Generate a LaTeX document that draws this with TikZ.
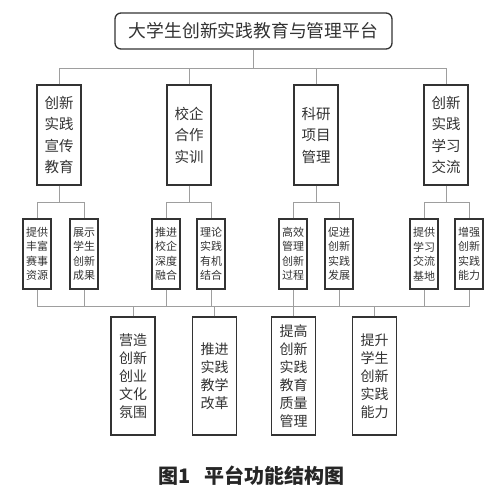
\documentclass[tikz,border=0pt]{standalone}
\usepackage{fontspec}
\newfontfamily\cjk{Noto Sans CJK SC}
\tikzset{
  conn/.style={draw=black!38, line width=0.8pt},
  box/.style={draw=black!80, line width=1.3pt, fill=white, align=center, inner sep=0pt, text=black!80},
  titlebox/.style={box, rounded corners=6pt, minimum width=277pt, minimum height=36pt, font=\cjk\fontsize{17.8}{20}\selectfont},
  lvtwo/.style={box, minimum width=44pt, minimum height=100pt, font=\cjk\fontsize{14.5}{21.5}\selectfont},
  lvthree/.style={box, minimum width=28pt, minimum height=70pt, font=\cjk\fontsize{11}{14.5}\selectfont},
  lvfour/.style={box, minimum width=44pt, minimum height=118pt, font=\cjk\fontsize{14}{18}\selectfont},
}
\begin{document}
\begin{tikzpicture}[x=1pt,y=-1pt]
\useasboundingbox (0,0) rectangle (500,495);
% connectors first (drawn under boxes)
\coordinate (j0) at (253.5,68);
\coordinate (ja) at (59,202);
\coordinate (jb) at (189,202);
\coordinate (jc) at (316,202);
\coordinate (jd) at (446,202);
\coordinate (jl) at (37,306);
\coordinate (jr) at (469,306);
% top
\node[titlebox] (top) at (253.5,31) {大学生创新实践教育与管理平台};
% level 2
\node[lvtwo] (a) at (59,135) {创新\\实践\\宣传\\教育};
\node[lvtwo] (b) at (189,135) {校企\\合作\\实训};
\node[lvtwo] (c) at (316,135) {科研\\项目\\管理};
\node[lvtwo] (d) at (446,135) {创新\\实践\\学习\\交流};
% level 3
\node[lvthree] (a1) at (37,254) {提供\\丰富\\赛事\\资源};
\node[lvthree] (a2) at (84,254) {展示\\学生\\创新\\成果};
\node[lvthree] (b1) at (166,254) {推进\\校企\\深度\\融合};
\node[lvthree] (b2) at (211,254) {理论\\实践\\有机\\结合};
\node[lvthree] (c1) at (293,254) {高效\\管理\\创新\\过程};
\node[lvthree] (c2) at (339,254) {促进\\创新\\实践\\发展};
\node[lvthree] (d1) at (424,254) {提供\\学习\\交流\\基地};
\node[lvthree] (d2) at (469,254) {增强\\创新\\实践\\能力};
% level 4
\node[lvfour] (e1) at (133,376) {营造\\创新\\创业\\文化\\氛围};
\node[lvfour] (e2) at (214.5,376) {推进\\实践\\教学\\改革};
\node[lvfour] (e3) at (293.5,376) {提高\\创新\\实践\\教育\\质量\\管理};
\node[lvfour] (e4) at (374.5,376) {提升\\学生\\创新\\实践\\能力};
% caption
\node[font=\cjk\bfseries\fontsize{20}{22}\selectfont, text=black!85, inner sep=0pt] (cap) at (251.5,476) {图1\hspace{0.7em}平台功能结构图};
% connectors top -> level 2
\draw[conn] (top.south) -- (j0);
\draw[conn] (a.north) |- (d.north |- j0) -- (d.north);
\draw[conn] (b.north) -- (b.north |- j0);
\draw[conn] (c.north) -- (c.north |- j0);
% level 2 -> level 3
\draw[conn] (a.south) -- (ja);
\draw[conn] (a1.north) |- (a2.north |- ja) -- (a2.north);
\draw[conn] (b.south) -- (jb);
\draw[conn] (b1.north) |- (b2.north |- jb) -- (b2.north);
\draw[conn] (c.south) -- (jc);
\draw[conn] (c1.north) |- (c2.north |- jc) -- (c2.north);
\draw[conn] (d.south) -- (jd);
\draw[conn] (d1.north) |- (d2.north |- jd) -- (d2.north);
% level 3 -> level 4
\draw[conn] (a1.south) |- (jr) -- (d2.south);
\foreach \n in {a2,b1,b2,c1,c2,d1} \draw[conn] (\n.south) -- (\n.south |- jl);
\foreach \n in {e1,e2,e3,e4} \draw[conn] (\n.north) -- (\n.north |- jl);
\end{tikzpicture}
\end{document}
